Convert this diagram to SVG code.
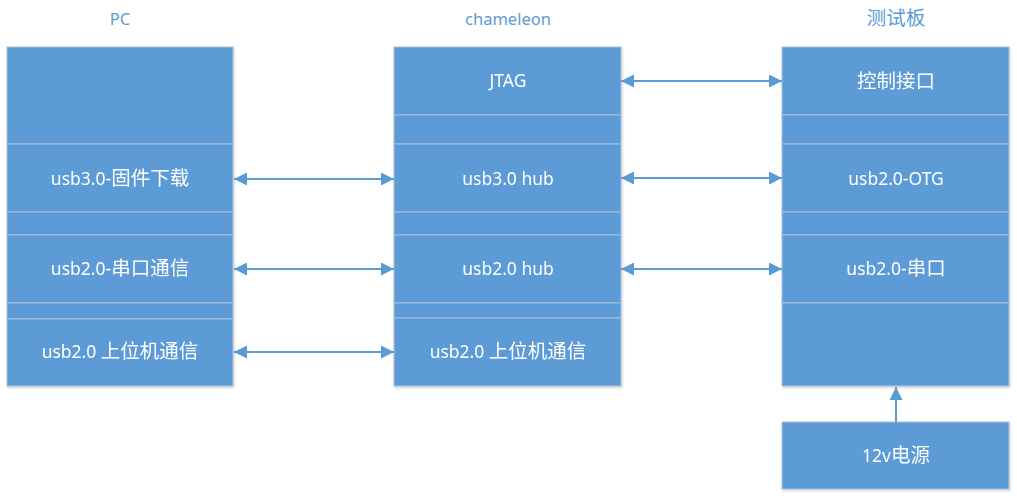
<svg xmlns="http://www.w3.org/2000/svg" width="1017" height="501" viewBox="0 0 1017 501">
<style>
.cell{fill:#5B9BD5;stroke:#A9BFD8;stroke-width:1}
.lbl{fill:#FFFFFF;font-family:"Noto Sans","Noto Sans CJK SC",sans-serif;font-size:17.5px;text-anchor:middle}
.ttl{fill:#5B9BD5;font-family:"Noto Sans","Noto Sans CJK SC",sans-serif;font-size:16.5px;text-anchor:middle}
.cj{font-size:19.5px}
.conn{stroke:#5B9BD5;stroke-width:2;fill:none}
</style>
<defs>
<marker id="ah" viewBox="0 0 13 13" refX="13" refY="6.5" markerWidth="13" markerHeight="13" markerUnits="userSpaceOnUse" orient="auto-start-reverse">
<path d="M0,0 L13,6.5 L0,13 Z" fill="#5B9BD5"/>
</marker>
<filter id="sh" x="-5%" y="-5%" width="110%" height="110%">
<feDropShadow dx="1" dy="1.5" stdDeviation="1.2" flood-color="#000" flood-opacity="0.18"/>
</filter>
</defs>

<g id="titles">
<text class="ttl" x="120" y="25">PC</text>
<text class="ttl" x="508" y="25">chameleon</text>
<text class="ttl" x="896" y="25"><tspan class="cj">测试板</tspan></text>
</g>

<g id="pc" filter="url(#sh)">
<g id="pc-top"><rect class="cell" x="7" y="47" width="226" height="97"/></g>
<g id="pc-usb30"><rect class="cell" x="7" y="144" width="226" height="68"/><text class="lbl" x="120" y="185">usb3.0-<tspan class="cj">固件下载</tspan></text></g>
<g id="pc-gap1"><rect class="cell" x="7" y="212" width="226" height="23"/></g>
<g id="pc-uart"><rect class="cell" x="7" y="235" width="226" height="68"/><text class="lbl" x="120" y="275">usb2.0-<tspan class="cj">串口通信</tspan></text></g>
<g id="pc-gap2"><rect class="cell" x="7" y="303" width="226" height="16"/></g>
<g id="pc-host"><rect class="cell" x="7" y="319" width="226" height="67"/><text class="lbl" x="120" y="358">usb2.0 <tspan class="cj">上位机通信</tspan></text></g>
</g>

<g id="chameleon" filter="url(#sh)">
<g id="ch-jtag"><rect class="cell" x="394" y="47" width="227" height="68"/><text class="lbl" x="508" y="87">JTAG</text></g>
<g id="ch-gap0"><rect class="cell" x="394" y="115" width="227" height="29"/></g>
<g id="ch-usb30"><rect class="cell" x="394" y="144" width="227" height="68"/><text class="lbl" x="508" y="185">usb3.0 hub</text></g>
<g id="ch-gap1"><rect class="cell" x="394" y="212" width="227" height="23"/></g>
<g id="ch-usb20"><rect class="cell" x="394" y="235" width="227" height="68"/><text class="lbl" x="508" y="275">usb2.0 hub</text></g>
<g id="ch-gap2"><rect class="cell" x="394" y="303" width="227" height="15"/></g>
<g id="ch-host"><rect class="cell" x="394" y="318" width="227" height="68"/><text class="lbl" x="508" y="358">usb2.0 <tspan class="cj">上位机通信</tspan></text></g>
</g>

<g id="board" filter="url(#sh)">
<g id="tb-ctrl"><rect class="cell" x="782" y="47" width="227" height="68"/><text class="lbl" x="896" y="88"><tspan class="cj">控制接口</tspan></text></g>
<g id="tb-gap0"><rect class="cell" x="782" y="115" width="227" height="29"/></g>
<g id="tb-otg"><rect class="cell" x="782" y="144" width="227" height="68"/><text class="lbl" x="896" y="185">usb2.0-OTG</text></g>
<g id="tb-gap1"><rect class="cell" x="782" y="212" width="227" height="23"/></g>
<g id="tb-uart"><rect class="cell" x="782" y="235" width="227" height="68"/><text class="lbl" x="896" y="275">usb2.0-<tspan class="cj">串口</tspan></text></g>
<g id="tb-bottom"><rect class="cell" x="782" y="303" width="227" height="83"/></g>
</g>

<g id="power" filter="url(#sh)">
<rect class="cell" x="782" y="422" width="227" height="67"/><text class="lbl" x="896" y="462">12v<tspan class="cj">电源</tspan></text>
</g>

<g id="connectors">
<line class="conn" x1="234" y1="179" x2="394" y2="179" marker-start="url(#ah)" marker-end="url(#ah)"/>
<line class="conn" x1="234" y1="269" x2="394" y2="269" marker-start="url(#ah)" marker-end="url(#ah)"/>
<line class="conn" x1="234" y1="352" x2="394" y2="352" marker-start="url(#ah)" marker-end="url(#ah)"/>
<line class="conn" x1="621" y1="81" x2="782" y2="81" marker-start="url(#ah)" marker-end="url(#ah)"/>
<line class="conn" x1="621" y1="178" x2="782" y2="178" marker-start="url(#ah)" marker-end="url(#ah)"/>
<line class="conn" x1="621" y1="269" x2="782" y2="269" marker-start="url(#ah)" marker-end="url(#ah)"/>
<line class="conn" x1="896" y1="422" x2="896" y2="387" marker-end="url(#ah)"/>
</g>
</svg>
